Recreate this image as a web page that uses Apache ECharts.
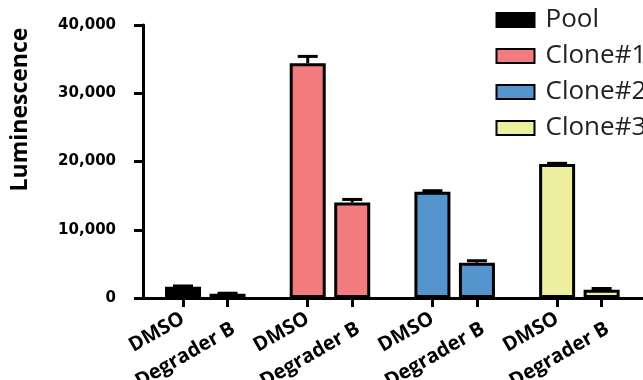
<!DOCTYPE html>
<html><head><meta charset="utf-8">
<script src="https://cdn.jsdelivr.net/npm/echarts@6/dist/echarts.min.js"></script>
<style>
html,body{margin:0;padding:0;background:#fff;}
#chart{width:643px;height:380px;}
</style></head><body><div id="chart"></div>
<script>
// ---- data ----
const groups = ['Pool', 'Clone#1', 'Clone#2', 'Clone#3'];
const conditions = ['DMSO', 'Degrader B'];
const poolValues = [1640, 620];
const clone1Values = [34400, 14000];
const clone2Values = [15570, 5160];
const clone3Values = [19630, 1200];
const poolErrors = [120, 80];
const clone1Errors = [1000, 440];
const clone2Errors = [150, 300];
const clone3Errors = [100, 190];
const yTicks = [0, 10000, 20000, 30000, 40000];

// ---- style / layout ----
const colors = ['#000000', '#F27B7E', '#5595CE', '#EEEF9E'];
const pairStep = 0.357; // offset of 2nd bar inside a group, in group units

const allValues = [poolValues, clone1Values, clone2Values, clone3Values];
const allErrors = [poolErrors, clone1Errors, clone2Errors, clone3Errors];
const xs = [], xLabels = [];
groups.forEach((g, gi) => conditions.forEach((c, ci) => { xs.push(gi + ci * pairStep); xLabels.push(c); }));

const barSeries = groups.map((name, gi) => ({
  name, type: 'bar', barWidth: 36, barGap: '-100%',
  data: allValues[gi].map((v, ci) => [gi + ci * pairStep, v]),
  itemStyle: { color: colors[gi], borderColor: '#000', borderWidth: 3 },
  animation: false
}));

const errData = [];
allValues.forEach((vals, gi) => vals.forEach((v, ci) => errData.push([gi + ci * pairStep, v, allErrors[gi][ci]])));

const errSeries = {
  type: 'custom', data: errData, z: 5, animation: false,
  renderItem: (params, api) => {
    const b = api.coord([api.value(0), api.value(1)]);
    const t = api.coord([api.value(0), api.value(1) + api.value(2)]);
    return { type: 'group', children: [
      { type: 'line', shape: { x1: b[0], y1: b[1], x2: b[0], y2: t[1] }, style: { stroke: '#000', lineWidth: 3 } },
      { type: 'line', shape: { x1: b[0] - 10, y1: t[1], x2: b[0] + 10, y2: t[1] }, style: { stroke: '#000', lineWidth: 3 } }
    ]};
  }
};

const labelFont = { fontFamily: 'Open Sans', fontWeight: 'bold', fontSize: 20, color: '#000' };
const labelFor = v => { const i = xs.findIndex(x => Math.abs(x - v) < 1e-6); return i < 0 ? '' : xLabels[i]; };

const chart = echarts.init(document.getElementById('chart'), null, { renderer: 'canvas' });
chart.setOption({
  animation: false,
  backgroundColor: '#fff',
  grid: { left: 140, top: 25, width: 504.4, height: 273, outerBoundsMode: 'none', containLabel: false },
  legend: {
    data: groups, orient: 'vertical', left: 495.5, top: 5, padding: 0,
    itemWidth: 38, itemHeight: 14, itemGap: 6, icon: 'rect', selectedMode: false,
    textStyle: { fontFamily: 'Open Sans', fontSize: 26, color: '#222', lineHeight: 30, padding: [0, 0, 0, 6] }
  },
  xAxis: {
    type: 'value', min: -0.345, max: 3.7,
    axisLine: { show: true, onZero: false, lineStyle: { color: '#000', width: 3 } },
    axisTick: { show: true, length: 9, lineStyle: { color: '#000', width: 3 }, customValues: xs },
    axisLabel: Object.assign({
      customValues: xs, rotate: 30, margin: 19, hideOverlap: false,
      formatter: v => { const s = labelFor(v); return s === 'Degrader B' ? '{b|' + s + '}' : s; },
      rich: { b: Object.assign({ padding: [24, 0, 0, 0] }, labelFont) }
    }, labelFont),
    splitLine: { show: false }
  },
  yAxis: {
    type: 'value', min: yTicks[0], max: yTicks[yTicks.length - 1], interval: yTicks[1] - yTicks[0], offset: -3,
    axisLine: { show: true, onZero: false, lineStyle: { color: '#000', width: 3 } },
    axisTick: { show: true, length: 9, lineStyle: { color: '#000', width: 3 } },
    axisLabel: { margin: 27, fontFamily: 'DejaVu Sans', fontWeight: 'bold', fontSize: 15, color: '#000',
      formatter: v => v.toLocaleString('en-US') },
    splitLine: { show: false },
    name: 'Luminescence', nameLocation: 'middle', nameGap: 111, nameRotate: 90,
    nameTextStyle: { fontFamily: 'Open Sans', fontWeight: 'bold', fontSize: 23, color: '#000', padding: [0, 0, 0, 104] }
  },
  series: barSeries.concat([errSeries])
});
</script></body></html>
